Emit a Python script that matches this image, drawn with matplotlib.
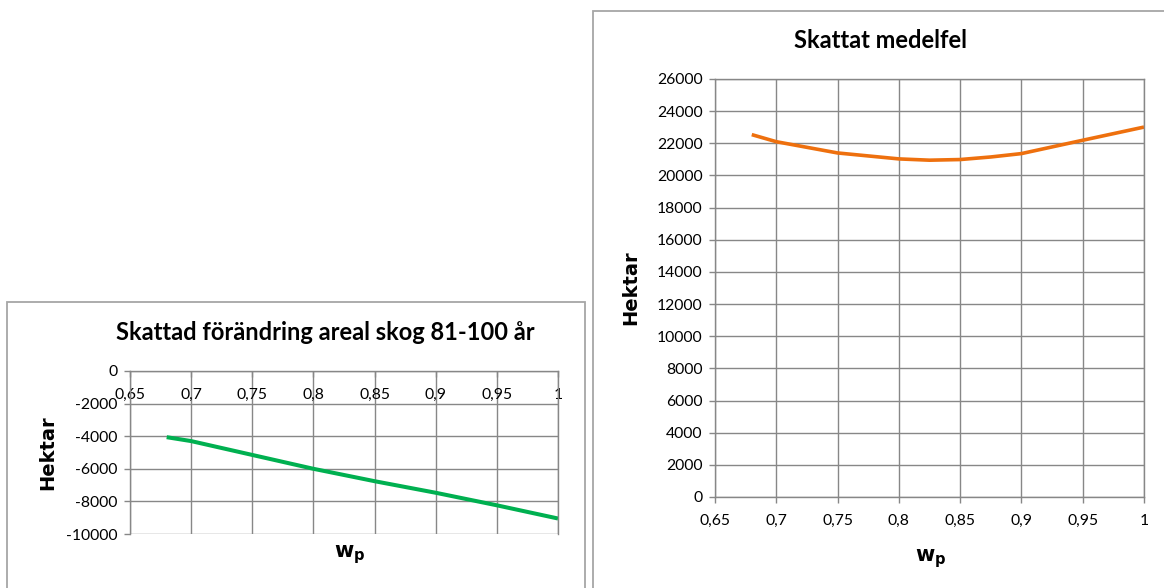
import matplotlib
matplotlib.use("Agg")
from matplotlib import pyplot as plt
from matplotlib.patches import Rectangle

plt.rcParams['font.family'] = ['Lato', 'DejaVu Sans']
plt.rcParams['axes.unicode_minus'] = False
plt.rcParams['mathtext.fontset'] = 'dejavusans'

# data
wp_left = [0.68, 0.7, 0.75, 0.8, 0.85, 0.9, 0.95, 1.0]
change = [-4060, -4300, -5150, -6000, -6760, -7470, -8240, -9050]

wp_right = [0.68, 0.7, 0.75, 0.8, 0.825, 0.85, 0.875, 0.9, 0.95, 1.0]
std_err = [22540, 22100, 21400, 21030, 20950, 20990, 21150, 21360, 22190, 23010]

xticks = [0.65, 0.7, 0.75, 0.8, 0.85, 0.9, 0.95, 1.0]
xtick_labels = ['0,65', '0,7', '0,75', '0,8', '0,85', '0,9', '0,95', '1']
yticks_left = [0, -2000, -4000, -6000, -8000, -10000]
yticks_right = list(range(0, 26001, 2000))

title_left = 'Skattad förändring areal skog 81-100 år'
title_right = 'Skattat medelfel'

W, H = 1164, 588
grid_c = '#878787'
border_c = '#a6a6a6'

fig = plt.figure(figsize=(W / 100, H / 100), dpi=100)


def box(x0, y0, x1, y1):
    # pixel coords (top-left origin) -> figure fraction
    return [x0 / W, 1 - y1 / H, (x1 - x0) / W, (y1 - y0) / H]


def style(ax, yticks):
    ax.set_xlim(0.65, 1.0)
    ax.set_ylim(min(yticks), max(yticks))
    ax.set_xticks(xticks, labels=xtick_labels)
    ax.set_yticks(yticks, labels=[str(v) for v in yticks])
    ax.grid(True, color=grid_c, linewidth=1.0)
    ax.set_axisbelow(True)
    for s in ax.spines.values():
        s.set_color(grid_c)
        s.set_linewidth(1.0)
    ax.tick_params(colors=grid_c, labelcolor='black', labelsize=11.3,
                   length=4, width=1.0)
    ax.tick_params(axis='y', pad=5)
    ax.tick_params(axis='x', pad=8)


# chart borders
fig.add_artist(Rectangle((7 / W, 1 - 600 / H), 578 / W, 298 / H,
                         transform=fig.transFigure, fill=False,
                         edgecolor=border_c, linewidth=1.3))
fig.add_artist(Rectangle((593 / W, 1 - 600 / H), 590 / W, 589 / H,
                         transform=fig.transFigure, fill=False,
                         edgecolor=border_c, linewidth=1.3))

# left chart
ax1 = fig.add_axes(box(130, 371, 558, 534))
style(ax1, yticks_left)
ax1.spines['bottom'].set_position(('data', 0))
ax1.spines['top'].set_visible(False)
ax1.plot(wp_left, change, color='#00b050', linewidth=2.9, solid_capstyle='butt')
ax1.set_ylabel('Hektar', family='DejaVu Sans', fontweight='bold',
               fontsize=14, va='center')
ax1.yaxis.set_label_coords((48 - 130) / 428, 0.5)
ax1.set_xlabel(r'$\mathbf{w}_\mathbf{p}$', fontsize=15, va='center')
ax1.xaxis.set_label_coords((350 - 130) / 428, (534 - 555) / 163)
fig.text(325 / W, 1 - 333 / H, title_left, fontsize=17, fontweight='bold',
         ha='center', va='center')

# right chart
ax2 = fig.add_axes(box(715, 79, 1144, 497))
style(ax2, yticks_right)
ax2.plot(wp_right, std_err, color='#ee700e', linewidth=2.6, solid_capstyle='butt')
ax2.set_ylabel('Hektar', family='DejaVu Sans', fontweight='bold',
               fontsize=14, va='center')
ax2.yaxis.set_label_coords((631 - 715) / 429, 0.5)
ax2.set_xlabel(r'$\mathbf{w}_\mathbf{p}$', fontsize=15, va='center')
ax2.xaxis.set_label_coords((931 - 715) / 429, (497 - 559) / 418)
fig.text(881 / W, 1 - 41 / H, title_right, fontsize=17, fontweight='bold',
         ha='center', va='center')

fig.savefig('out.png', dpi=100)
